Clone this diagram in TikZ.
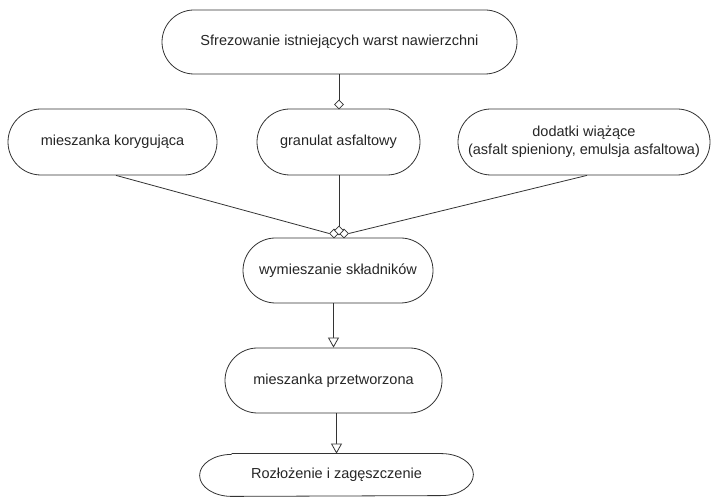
\documentclass[tikz,border=0pt]{standalone}
\usepackage{fontspec}
\setmainfont{Liberation Sans}
\usetikzlibrary{shapes.misc,shapes.geometric,arrows.meta}
\begin{document}
\begin{tikzpicture}[x=1pt,y=1pt,
  line width=0.8pt,
  every node/.style={font=\fontsize{14.5}{18}\selectfont, text=black!85},
  pill/.style={rounded rectangle, draw=black!80, fill=white, inner sep=0pt, align=center},
  agg/.style={diamond, draw=black!80, fill=white, minimum width=9pt, minimum height=9pt, inner sep=0pt, line width=0.7pt},
  conn/.style={draw=black!80},
  arr/.style={draw=black!80, -{Triangle[open, width=11pt, length=10pt, fill=white]}}
]
\useasboundingbox (0,0) rectangle (712,497);
% nodes
\node[pill, minimum width=355pt, minimum height=64pt] (top) at (339.5,455) {Sfrezowanie istniejących warst nawierzchni};
\node[pill, minimum width=209pt, minimum height=66pt] (kor) at (112.5,355) {mieszanka korygująca};
\node[pill, minimum width=163pt, minimum height=66pt] (gra) at (338.5,355) {granulat asfaltowy};
\node[pill, minimum width=252pt, minimum height=66pt] (dod) at (584,355) {dodatki wiążące\\(asfalt spieniony, emulsja asfaltowa)};
\node[pill, minimum width=190pt, minimum height=65pt] (wym) at (338,226.5) {wymieszanie składników};
\node[pill, minimum width=217pt, minimum height=65pt] (prz) at (333.5,116.5) {mieszanka przetworzona};
\node[minimum width=273pt, minimum height=42pt, inner sep=0pt] (roz) at (336.5,22) {Rozłożenie i zagęszczenie};
\draw[black!80] ([xshift=32pt]roz.north west) -- ([xshift=-32pt]roz.north east)
  arc[start angle=90, end angle=-90, x radius=32pt, y radius=21pt]
  -- ([xshift=32pt]roz.south west)
  arc[start angle=270, end angle=90, x radius=32pt, y radius=21pt];
% diamonds
\node[agg] (d0) at (339,392.5) {};
\node[agg] (dl) at (334,263.5) {};
\node[agg] (dr) at (344,263.5) {};
\node[agg] (dm) at (339,266.5) {};
% connectors
\draw[conn] (top.south -| d0.north) -- (d0.north);
\draw[conn] ([xshift=3.5pt]kor.south) -- (dl.west);
\draw[conn] (gra.south -| dm.north) -- (dm.north);
\draw[conn] ([xshift=3pt]dod.south) -- (dr.east);
\draw[arr] (wym.south -| prz.north) -- (prz.north);
\draw[arr] (prz.south -| roz.north) -- (roz.north);
\end{tikzpicture}
\end{document}
